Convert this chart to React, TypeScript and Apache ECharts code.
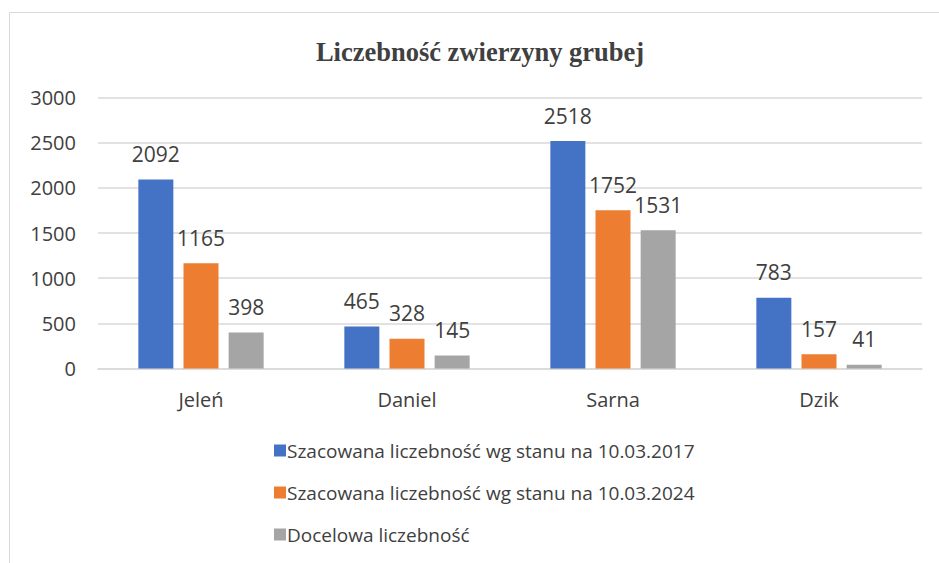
import React, { useEffect, useRef } from "react";
import * as echarts from "echarts";

const categories = ["Jeleń", "Daniel", "Sarna", "Dzik"];
const seriesNames = [
  "Szacowana liczebność wg stanu na 10.03.2017",
  "Szacowana liczebność wg stanu na 10.03.2024",
  "Docelowa liczebność",
];
const values2017 = [2092, 465, 2518, 783];
const values2024 = [1165, 328, 1752, 157];
const target = [398, 145, 1531, 41];
const colors = ["#4472C4", "#ED7D31", "#A5A5A5"];

export default function App() {
  const ref = useRef<HTMLDivElement>(null);
  useEffect(() => {
    if (!ref.current) return;
    const chart = echarts.init(ref.current, null, { renderer: "svg" });
    const font = "'Open Sans', 'Noto Sans', sans-serif";
    const labelCfg = {
      show: true,
      position: "top",
      distance: 15,
      color: "#404040",
      fontFamily: font,
      fontSize: 21,
    };
    const data = [values2017, values2024, target];
    chart.setOption({
      animation: false,
      color: colors,
      graphic: [
        {
          type: "rect",
          shape: { x: 9.5, y: 12.5, width: 940, height: 560 },
          style: { fill: "none", stroke: "#d9d9d9", lineWidth: 1 },
          silent: true,
        },
      ],
      title: {
        text: "Liczebność zwierzyny grubej",
        left: 475,
        textAlign: "center",
        top: 33,
        textStyle: {
          fontFamily: "'Liberation Serif', 'Times New Roman', serif",
          fontWeight: "bold",
          fontSize: 26.5,
          color: "#404040",
        },
      },
      legend: {
        orient: "vertical",
        left: 269,
        top: 436,
        itemWidth: 12,
        itemHeight: 12,
        itemGap: 23,
        icon: "rect",
        textStyle: {
          fontFamily: font,
          fontSize: 19,
          color: "#404040",
          padding: [0, 0, 0, -4],
        },
        data: seriesNames,
      },
      grid: { left: 98, right: 17, top: 97.5, bottom: 194.5, containLabel: false },
      xAxis: {
        type: "category",
        data: categories,
        axisLine: { show: true, lineStyle: { color: "#d9d9d9", width: 1.5 } },
        axisTick: { show: false },
        axisLabel: {
          fontFamily: font,
          fontSize: 20,
          color: "#404040",
          margin: 21,
        },
      },
      yAxis: {
        type: "value",
        min: 0,
        max: 3000,
        interval: 500,
        axisLine: { show: false },
        axisTick: { show: false },
        splitLine: { lineStyle: { color: "#d9d9d9", width: 1.5 } },
        axisLabel: {
          fontFamily: font,
          fontSize: 20,
          color: "#404040",
          margin: 22,
          formatter: (v: number) => String(v),
        },
      },
      series: seriesNames.map((name, i) => ({
        name,
        type: "bar",
        data: data[i],
        barWidth: 35,
        barGap: "29%",
        label: labelCfg,
      })),
    });
    return () => chart.dispose();
  }, []);
  return (
    <div
      ref={ref}
      style={{ position: "absolute", left: 0, top: 0, width: 939, height: 563 }}
    />
  );
}
